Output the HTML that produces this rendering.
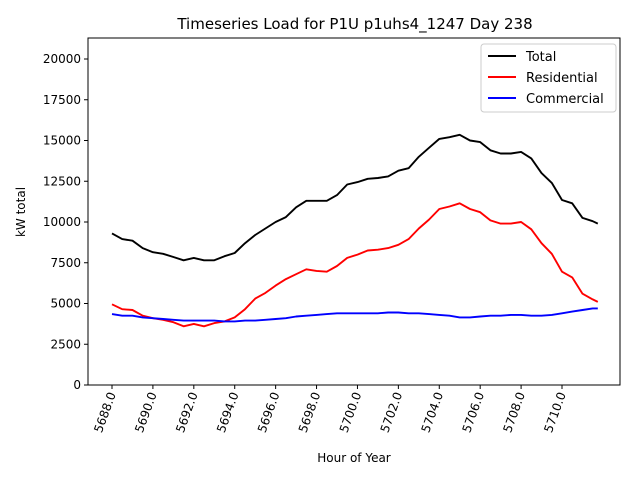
<!DOCTYPE html>
<html><head><meta charset="utf-8"><style>
body{margin:0;background:#fff}
svg{font-family:"DejaVu Sans","Liberation Sans",sans-serif}
</style></head><body>
<svg id="chart" width="640" height="480" xmlns="http://www.w3.org/2000/svg">
<rect width="640" height="480" fill="#fff"/>
<text x="355" y="29" font-size="15" text-anchor="middle">Timeseries Load for P1U p1uhs4_1247  Day 238</text>
<g id="plot"></g>
</svg>
<script>
const hours = [5688,5688.5,5689,5689.5,5690,5690.5,5691,5691.5,5692,5692.5,5693,5693.5,5694,5694.5,5695,5695.5,5696,5696.5,5697,5697.5,5698,5698.5,5699,5699.5,5700,5700.5,5701,5701.5,5702,5702.5,5703,5703.5,5704,5704.5,5705,5705.5,5706,5706.5,5707,5707.5,5708,5708.5,5709,5709.5,5710,5710.5,5711,5711.5,5711.75];
const totalLoad = [9300,8950,8850,8400,8150,8050,7850,7650,7800,7650,7650,7900,8100,8700,9200,9600,10000,10300,10900,11300,11300,11300,11650,12300,12450,12650,12700,12800,13150,13300,14000,14550,15100,15200,15350,15000,14900,14400,14200,14200,14300,13900,13000,12400,11350,11150,10250,10050,9900];
const residentialLoad = [4950,4650,4600,4250,4100,4000,3850,3600,3750,3600,3800,3900,4150,4650,5300,5650,6100,6500,6800,7100,7000,6950,7300,7800,8000,8250,8300,8400,8600,8950,9600,10150,10800,10950,11150,10800,10600,10100,9900,9900,10000,9550,8700,8050,6950,6600,5600,5250,5100];
const commercialLoad = [4350,4250,4250,4150,4100,4050,4000,3950,3950,3950,3950,3900,3900,3950,3950,4000,4050,4100,4200,4250,4300,4350,4400,4400,4400,4400,4400,4450,4450,4400,4400,4350,4300,4250,4150,4150,4200,4250,4250,4300,4300,4250,4250,4300,4400,4500,4600,4700,4700];
const xTicks = [5688,5690,5692,5694,5696,5698,5700,5702,5704,5706,5708,5710];
const yTicks = [0,2500,5000,7500,10000,12500,15000,17500,20000];
const seriesNames = ["Total","Residential","Commercial"];
const seriesColors = ["#000","#f00","#00f"];

const L=88,R=620,T=38,B=385;
const xs = h => 112 + (h-5688)*(450/22);
const ys = v => 385 - v*(326/20000);
const NS="http://www.w3.org/2000/svg";
const g=document.getElementById('plot');
function mk(tag,attrs,parent){const e=document.createElementNS(NS,tag);for(const k in attrs)e.setAttribute(k,attrs[k]);(parent||g).appendChild(e);return e;}

const frame=mk('rect',{x:L,y:T,width:R-L,height:B-T,fill:'none',stroke:'#000','stroke-width':1});



yTicks.forEach(v=>{
  const y=ys(v);
  const t=mk('line',{x1:L-4,x2:L,y1:y,y2:y,stroke:'#000'});
  
  
  const lb=mk('text',{x:L-7,y:y+4,'font-size':12,'text-anchor':'end'});
  lb.textContent=v;
  
  
});
xTicks.forEach(h=>{
  const x=xs(h);
  const t=mk('line',{x1:x,x2:x,y1:B,y2:B+4,stroke:'#000'});
  
  
  const lb=mk('text',{x:0,y:0,'font-size':12,'text-anchor':'end',transform:`translate(${x+4},${B+9}) rotate(-70)`});
  lb.textContent=h.toFixed(1);
  
  
});
const xt=mk('text',{x:354,y:462,'font-size':12,'text-anchor':'middle'});
xt.textContent='Hour of Year';


const yt=mk('text',{x:0,y:0,'font-size':12,'text-anchor':'middle',transform:'translate(25,212) rotate(-90)'});
yt.textContent='kW total';



[totalLoad,residentialLoad,commercialLoad].forEach((arr,si)=>{
  const pts=arr.map((v,i)=>xs(hours[i]).toFixed(1)+','+ys(v).toFixed(1)).join(' ');
  const p=mk('polyline',{points:pts,fill:'none',stroke:seriesColors[si],'stroke-width':1.9,'stroke-linejoin':'round'});
  
  
});

const lg=mk('g',{});


mk('rect',{x:481,y:44,width:135,height:68,rx:3,fill:'#fff',stroke:'#ccc'},lg);
seriesNames.forEach((n,i)=>{
  const y=56+i*21;
  const l=mk('line',{x1:488,x2:516,y1:y,y2:y,stroke:seriesColors[i],'stroke-width':1.9},lg);
  
  
  const t=mk('text',{x:526,y:y+5,'font-size':13},lg);
  t.textContent=n;
  
  
});
</script>
</body></html>
